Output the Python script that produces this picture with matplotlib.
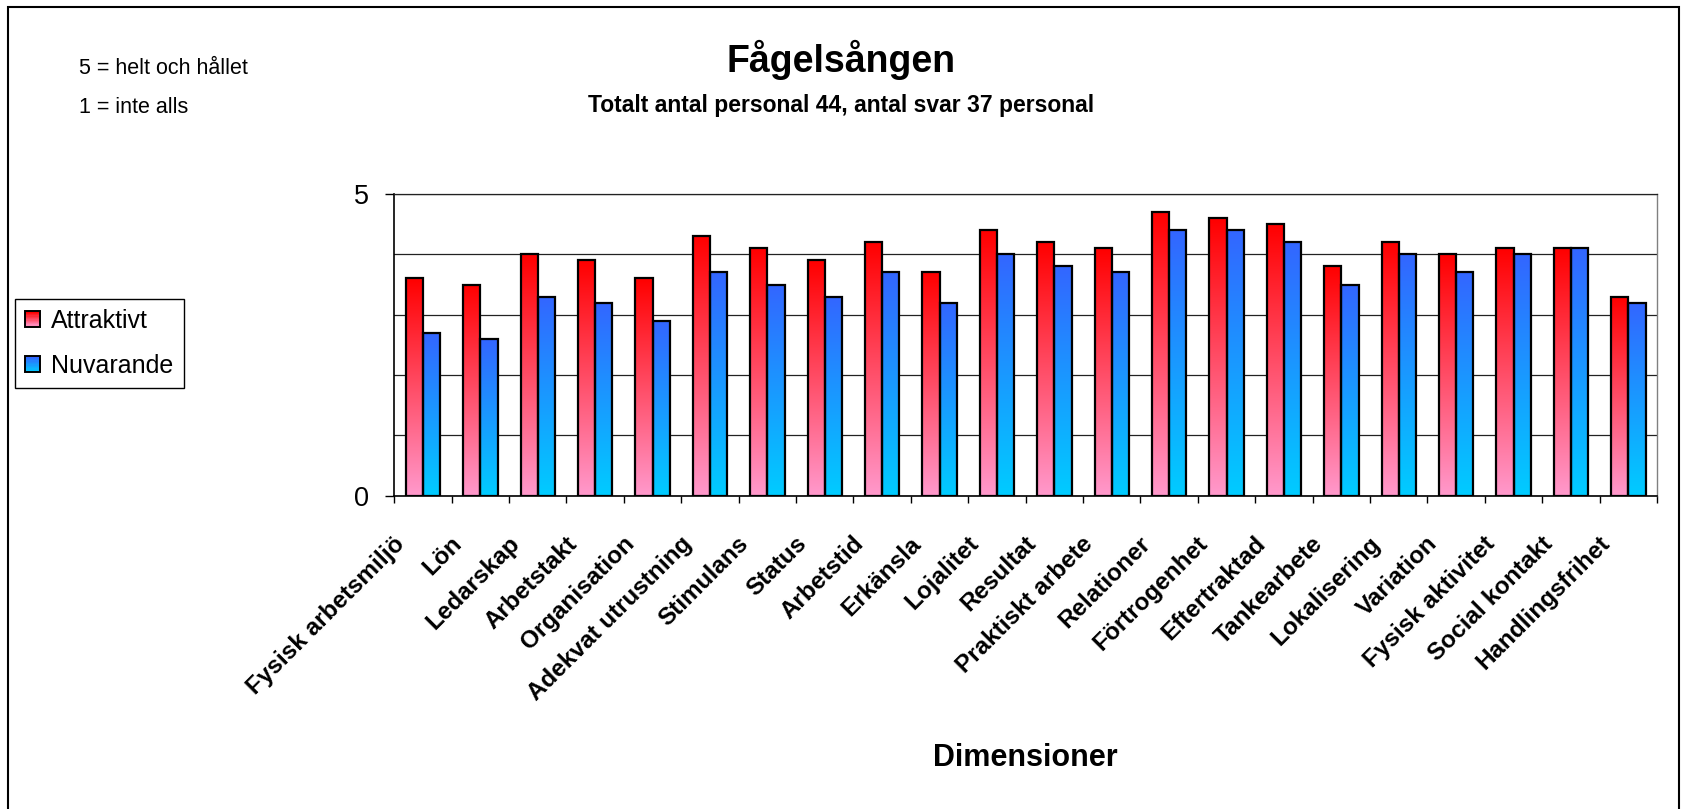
"""Grouped bar chart: Attraktivt vs Nuvarande per dimension (Fågelsången)."""

import numpy as np
import matplotlib

matplotlib.use("Agg")
import matplotlib.pyplot as plt
from matplotlib.colors import to_rgb
from matplotlib.legend_handler import HandlerBase
from matplotlib.patches import Rectangle
from matplotlib.transforms import ScaledTranslation

plt.rcParams["font.family"] = ["Liberation Sans", "DejaVu Sans"]

categories = [
    "Fysisk arbetsmiljö", "Lön", "Ledarskap", "Arbetstakt", "Organisation",
    "Adekvat utrustning", "Stimulans", "Status", "Arbetstid", "Erkänsla",
    "Lojalitet", "Resultat", "Praktiskt arbete", "Relationer", "Förtrogenhet",
    "Eftertraktad", "Tankearbete", "Lokalisering", "Variation",
    "Fysisk aktivitet", "Social kontakt", "Handlingsfrihet",
]
attraktivt = [3.6, 3.5, 4.0, 3.9, 3.6, 4.3, 4.1, 3.9, 4.2, 3.7, 4.4,
              4.2, 4.1, 4.7, 4.6, 4.5, 3.8, 4.2, 4.0, 4.1, 4.1, 3.3]
nuvarande = [2.7, 2.6, 3.3, 3.2, 2.9, 3.7, 3.5, 3.3, 3.7, 3.2, 4.0,
             3.8, 3.7, 4.4, 4.4, 4.2, 3.5, 4.0, 3.7, 4.0, 4.1, 3.2]
series_names = ["Attraktivt", "Nuvarande"]

RED_TOP, RED_BOTTOM = "#FF0000", "#FF99CC"
BLUE_TOP, BLUE_BOTTOM = "#3366FF", "#00CCFF"

W, H = 1683, 809


class GradientHandler(HandlerBase):
    def __init__(self, top, bottom, n=12):
        super().__init__()
        self.top, self.bottom, self.n = to_rgb(top), to_rgb(bottom), n

    def create_artists(self, legend, orig_handle, xdescent, ydescent,
                       width, height, fontsize, trans):
        out = []
        step = height / self.n
        for i in range(self.n):
            t = i / (self.n - 1)
            c = [b + (tp - b) * t for b, tp in zip(self.bottom, self.top)]
            out.append(Rectangle((-xdescent, -ydescent + i * step), width, step,
                                 facecolor=c, edgecolor="none", transform=trans))
        out.append(Rectangle((-xdescent, -ydescent), width, height,
                             facecolor="none", edgecolor="black", lw=1.4,
                             transform=trans))
        return out


def fill_gradient(ax, bars, top, bottom):
    grad = np.linspace(to_rgb(top), to_rgb(bottom), 128)[:, None, :]
    for p in bars:
        x0, y0 = p.get_x(), p.get_y()
        im = ax.imshow(grad, extent=(x0, x0 + p.get_width(), y0, y0 + p.get_height()),
                       aspect="auto", origin="upper", zorder=2,
                       interpolation="bilinear")
        im.set_clip_path(p)


fig = plt.figure(figsize=(W / 100, H / 100), dpi=100)
ax = fig.add_axes([394.3 / W, 1 - 495.7 / H, (1657 - 394.3) / W, (495.7 - 194) / H])

x = np.arange(len(categories)) + 0.5
w = 0.3
bars_a = ax.bar(x - w / 2, attraktivt, w, facecolor="none", edgecolor="black",
                lw=1.6, zorder=3)
bars_b = ax.bar(x + w / 2, nuvarande, w, facecolor="none", edgecolor="black",
                lw=1.6, zorder=3)
fill_gradient(ax, bars_a, RED_TOP, RED_BOTTOM)
fill_gradient(ax, bars_b, BLUE_TOP, BLUE_BOTTOM)

ax.set_xlim(0, len(categories))
ax.set_ylim(0, 5)

# x: tick marks between groups, labels at group centres
ax.set_xticks(np.arange(len(categories) + 1))
ax.set_xticklabels([])
ax.set_xticks(x, minor=True)
ax.set_xticklabels(categories, minor=True, rotation=45, ha="right", va="center",
                   rotation_mode="anchor", fontsize=17.5, fontweight="bold")
ax.tick_params(axis="x", which="major", length=5, width=1, color="black")
ax.tick_params(axis="x", which="minor", length=0, pad=32)
shift = ScaledTranslation(-0.22, 0, fig.dpi_scale_trans)
for lbl in ax.get_xticklabels(minor=True):
    lbl.set_transform(lbl.get_transform() + shift)

# y: labels only at 0 and 5, grid every 1
ax.set_yticks([0, 5])
ax.set_yticks([1, 2, 3, 4], minor=True)
ax.tick_params(axis="y", which="major", length=6.5, width=1, pad=11.5, labelsize=19.5)
ax.tick_params(axis="y", which="minor", length=0)
ax.grid(axis="y", which="both", color="#222222", lw=0.9)
ax.set_axisbelow(True)

for side in ("left", "bottom"):
    ax.spines[side].set_color("black")
    ax.spines[side].set_linewidth(1.2)
ax.spines["top"].set_color("#222222")
ax.spines["top"].set_linewidth(0.9)
ax.spines["right"].set_color("#808080")
ax.spines["right"].set_linewidth(1.0)

ax.set_xlabel("Dimensioner", fontsize=22, fontweight="bold")
ax.xaxis.set_label_coords(0.5, (H - 757.5 - (H - 495.7)) / (495.7 - 194))
ax.xaxis.label.set_va("center")

fig.text(0.5, 1 - 71.7 / H, "Fågelsången", ha="center", va="baseline",
         fontsize=27, fontweight="bold")
fig.text(0.5, 1 - 111.7 / H, "Totalt antal personal 44, antal svar 37 personal",
         ha="center", va="baseline", fontsize=16.5, fontweight="bold")
fig.text(79 / W, 1 - 74 / H, "5 = helt och hållet", va="baseline", fontsize=15.5)
fig.text(79 / W, 1 - 113.3 / H, "1 = inte alls", va="baseline", fontsize=15.5)

leg = fig.legend(
    [bars_a, bars_b], series_names,
    handler_map={bars_a: GradientHandler(RED_TOP, RED_BOTTOM),
                 bars_b: GradientHandler(BLUE_TOP, BLUE_BOTTOM)},
    loc="upper left", bbox_to_anchor=(15 / W, 1 - 299 / H),
    bbox_transform=fig.transFigure, borderaxespad=0, fontsize=18,
    fancybox=False, edgecolor="black", framealpha=1,
    handlelength=0.6, handleheight=0.6, handletextpad=0.45,
    borderpad=0.4, labelspacing=0.85,
)
leg.get_frame().set_linewidth(1.0)

fig.patches.append(Rectangle((8 / W, -0.01), (1679 - 8) / W, 1 - 7 / H + 0.01,
                             transform=fig.transFigure, fill=False,
                             edgecolor="black", lw=1.5))

fig.savefig("out.png", dpi=100)
